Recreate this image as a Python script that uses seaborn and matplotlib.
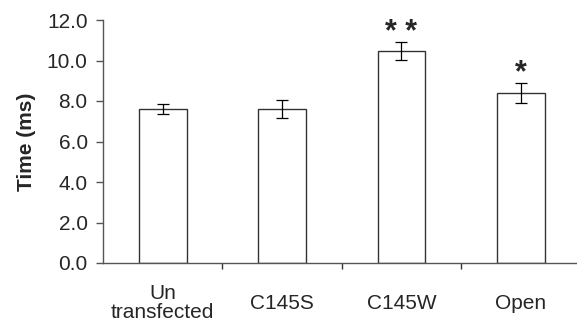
import numpy as np
import pandas as pd
import seaborn as sns
import matplotlib.pyplot as plt

groups = ['Un\ntransfected', 'C145S', 'C145W', 'Open']
means = [7.6, 7.6, 10.48, 8.4]
errs = [0.23, 0.45, 0.45, 0.5]
stars = ['', '', '* *', '*']

sns.set_style('white')
plt.rcParams['font.family'] = ['Liberation Sans', 'DejaVu Sans']
plt.rcParams['font.size'] = 15

df = pd.DataFrame({'group': groups, 'time': means})

fig = plt.figure(figsize=(5.77, 3.32), dpi=100)
ax = fig.add_axes([103 / 577, 69 / 332, 474 / 577, 243 / 332])

sns.barplot(data=df, x='group', y='time', color='white', edgecolor='#333333',
            linewidth=1.0, width=0.4, errorbar=None, ax=ax)
ax.errorbar(np.arange(len(groups)), means, yerr=errs, fmt='none', ecolor='black',
            elinewidth=0.9, capsize=4.3, capthick=0.9)

for i, s in enumerate(stars):
    if s:
        ax.text(i, means[i] + errs[i] + 0.45, s, ha='center', va='center',
                fontsize=22, fontweight='bold')

ax.set_xlim(-0.5, 3.47)
ax.set_ylim(0, 12)
ax.set_yticks(np.arange(0, 12.1, 2))
ax.set_yticklabels([f'{v:.1f}' for v in np.arange(0, 12.1, 2)])
ax.set_xticks(np.arange(len(groups)))
ax.set_xticklabels(groups, va='center', linespacing=1.0)
ax.set_xticks([0.5, 1.5, 2.5], minor=True)
ax.tick_params(axis='x', which='major', length=0, pad=29)
ax.tick_params(axis='x', which='minor', length=4, width=1, color='#333333', direction='out', bottom=True)
ax.tick_params(axis='y', length=5, width=1, color='#555555', direction='out', left=True, pad=6)
ax.set_xlabel('')
ax.set_ylabel('Time (ms)', fontweight='bold', fontsize=15, labelpad=8)

for side in ['top', 'right']:
    ax.spines[side].set_visible(False)
for side in ['left', 'bottom']:
    ax.spines[side].set_color('#555555')
    ax.spines[side].set_linewidth(1.0)

fig.savefig('out.png', dpi=100)
